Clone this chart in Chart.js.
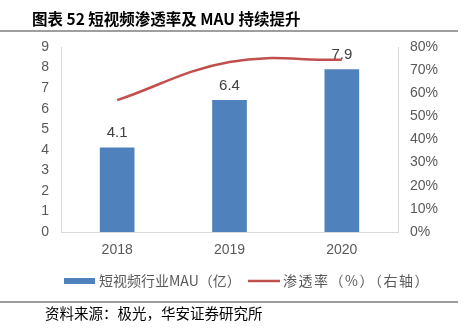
<!DOCTYPE html>
<html>
<head>
<meta charset="utf-8">
<script src="https://cdn.jsdelivr.net/npm/chart.js@4/dist/chart.umd.min.js"></script>
<style>
  html, body { margin: 0; padding: 0; background: #fff; }
  #wrap { width: 469px; height: 332px; }
</style>
</head>
<body>
<div id="wrap"><canvas id="myChart" width="469" height="332"></canvas></div>
<script>
// chart data
const years = ["2018", "2019", "2020"];
const mauValues = [4.1, 6.4, 7.9];          // 短视频行业MAU（亿）
const penetration = [57, 73.5, 74.5];       // 渗透率（%）
const leftTicks = [0, 9, 1];                // min, max, step
const rightTicks = [0, 80, 10];

const titleText = "图表 52 短视频渗透率及 MAU 持续提升";
const sourceText = "资料来源：极光，华安证券研究所";
const mauLabel = "短视频行业MAU（亿）";
const rateLabel = "渗透率（%）（右轴）";

const BLUE = "#4f81bd";
const RED = "#c0504d";
const TICK = "#595959";
const CJK = "'Noto Sans CJK SC', 'Noto Sans', sans-serif";
const LATIN = "'Liberation Sans', Arial, sans-serif";

// page decorations: title, rules, legend, source, bar values
const decor = {
    id: "decor",
    afterDraw(chart) {
        const ctx = chart.ctx;
        ctx.save();
        ctx.fillStyle = "#000";
        ctx.font = "bold 15.5px " + CJK;
        ctx.textBaseline = "middle";
        ctx.fillText(titleText, 32, 19);

        ctx.strokeStyle = "#7f7f7f";
        ctx.lineWidth = 1.5;
        ctx.beginPath();
        ctx.moveTo(0, 31); ctx.lineTo(458, 31);
        ctx.moveTo(0, 302); ctx.lineTo(458, 302);
        ctx.stroke();

        // legend
        ctx.fillStyle = BLUE;
        ctx.fillRect(64, 278, 31, 6);
        ctx.strokeStyle = RED;
        ctx.lineWidth = 2.5;
        ctx.beginPath();
        ctx.moveTo(248, 281); ctx.lineTo(280, 281);
        ctx.stroke();
        ctx.fillStyle = TICK;
        ctx.font = "14px " + CJK;
        ctx.fillText(mauLabel, 99, 281);
        ctx.letterSpacing = "1.5px";
        ctx.fillText(rateLabel, 283, 281);
        ctx.letterSpacing = "0px";

        // source
        ctx.fillStyle = "#000";
        ctx.font = "14.5px " + CJK;
        ctx.fillText(sourceText, 45, 313);
        ctx.restore();
    },
    afterDatasetsDraw(chart) {
        const ctx = chart.ctx;
        const meta = chart.getDatasetMeta(0);
        ctx.save();
        ctx.fillStyle = "#404040";
        ctx.font = "15px " + LATIN;
        ctx.textAlign = "center";
        ctx.textBaseline = "bottom";
        meta.data.forEach((bar, i) => {
            ctx.fillText(mauValues[i].toFixed(1), bar.x, bar.y - 7);
        });
        ctx.restore();
    }
};

new Chart(document.getElementById("myChart").getContext("2d"), {
    data: {
        labels: years,
        datasets: [
            {
                type: "bar",
                label: mauLabel,
                data: mauValues,
                backgroundColor: BLUE,
                barThickness: 34,
                yAxisID: "y",
                order: 2
            },
            {
                type: "line",
                label: rateLabel,
                data: penetration,
                borderColor: RED,
                borderWidth: 2.5,
                pointRadius: 0,
                tension: 0.4,
                fill: false,
                yAxisID: "y1",
                order: 1
            }
        ]
    },
    options: {
        responsive: false,
        animation: false,
        layout: { padding: { top: 47, left: 0, right: 0, bottom: 0 } },
        plugins: {
            legend: { display: false },
            title: { display: false },
            tooltip: { enabled: false }
        },
        scales: {
            x: {
                grid: { display: false },
                border: { display: true, color: "#d9d9d9" },
                ticks: { color: TICK, font: { size: 14, family: LATIN }, padding: 2 },
                afterFit(scale) { scale.height = 100; }
            },
            y: {
                position: "left",
                min: leftTicks[0], max: leftTicks[1],
                grid: { display: false },
                border: { display: true, color: "#d9d9d9" },
                ticks: { stepSize: leftTicks[2], color: TICK, padding: 4, font: { size: 14, family: LATIN } },
                afterFit(scale) { scale.width = 61; }
            },
            y1: {
                position: "right",
                min: rightTicks[0], max: rightTicks[1],
                grid: { display: false },
                border: { display: true, color: "#d9d9d9" },
                ticks: {
                    stepSize: rightTicks[2], color: TICK, padding: 4,
                    font: { size: 14, family: LATIN },
                    callback: v => v + "%"
                },
                afterFit(scale) { scale.width = 71; }
            }
        }
    },
    plugins: [decor]
});
</script>
</body>
</html>
